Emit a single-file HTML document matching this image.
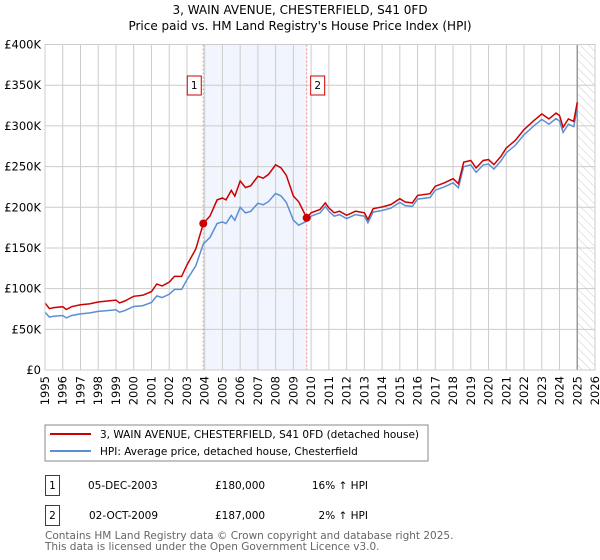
<!DOCTYPE html>
<html><head><meta charset="utf-8"><style>
body{margin:0;background:#fff;font-family:"DejaVu Sans","Liberation Sans",sans-serif}
svg{display:block}
</style></head><body>
<svg id="c" width="600" height="560" viewBox="0 0 600 560" font-family="DejaVu Sans, Liberation Sans, sans-serif">
<defs><pattern id="hatch" width="6" height="6" patternUnits="userSpaceOnUse" patternTransform="rotate(-45)"><line x1="0" y1="0" x2="0" y2="6" stroke="#ccc" stroke-width="1"/></pattern></defs>
<text x="300" y="14" text-anchor="middle" font-size="12">3, WAIN AVENUE, CHESTERFIELD, S41 0FD</text>
<text x="300" y="30" text-anchor="middle" font-size="12">Price paid vs. HM Land Registry's House Price Index (HPI)</text>
<g id="plot"></g>
<rect x="45" y="425" width="383" height="36" fill="#fff" stroke="#888"/>
<line x1="50" y1="434" x2="91" y2="434" stroke="#cc0000" stroke-width="2"/>
<text x="100" y="438" font-size="10.5">3, WAIN AVENUE, CHESTERFIELD, S41 0FD (detached house)</text>
<line x1="50" y1="451" x2="91" y2="451" stroke="#5b8fd4" stroke-width="2"/>
<text x="100" y="455" font-size="10.5">HPI: Average price, detached house, Chesterfield</text>
<g font-size="10.5">
<rect x="45.5" y="475.5" width="14" height="20" fill="none" stroke="#cc0000"/>
<text x="52.5" y="489" text-anchor="middle">1</text>
<text x="88" y="489">05-DEC-2003</text>
<text x="215" y="489">£180,000</text>
<text x="368" y="489" text-anchor="end">16% ↑ HPI</text>
<rect x="45.5" y="505.5" width="14" height="20" fill="none" stroke="#cc0000"/>
<text x="52.5" y="519" text-anchor="middle">2</text>
<text x="89" y="519">02-OCT-2009</text>
<text x="215" y="519">£187,000</text>
<text x="368" y="519" text-anchor="end">2% ↑ HPI</text>
</g>
<text x="45" y="539" font-size="10.5" fill="#666">Contains HM Land Registry data © Crown copyright and database right 2025.</text>
<text x="45" y="550" font-size="10.5" fill="#666">This data is licensed under the Open Government Licence v3.0.</text>
</svg>
<script>
const hpiYears=[1995,1995.25,1995.5,1996,1996.2,1996.5,1997,1997.5,1998,1998.5,1999,1999.2,1999.5,2000,2000.5,2001,2001.3,2001.6,2002,2002.3,2002.7,2003,2003.5,2003.92,2004.3,2004.7,2005,2005.2,2005.5,2005.7,2006,2006.3,2006.6,2007,2007.3,2007.6,2008,2008.3,2008.6,2009,2009.3,2009.75,2010,2010.5,2010.8,2011,2011.3,2011.6,2012,2012.5,2013,2013.2,2013.5,2014,2014.5,2015,2015.3,2015.7,2016,2016.7,2017,2017.5,2018,2018.3,2018.6,2019,2019.3,2019.7,2020,2020.3,2020.7,2021,2021.5,2022,2022.5,2023,2023.4,2023.8,2024,2024.2,2024.5,2024.8,2025.0];
const hpiValues=[71,65,66,67,64,67,69,70,72,73,74,71,73,78,79,83,91,89,93,99,99,111,128,155,163,180,182,180,190,184,200,193,195,205,203,207,217,214,206,184,178,183,189,193,201,195,189,191,186,191,189,181,194,196,199,206,202,201,210,212,221,225,230,224,250,252,243,252,253,247,257,267,276,289,299,308,302,309,306,292,302,299,322];
const saleYears=[2003.92,2009.75];
const salePrices=[180,187];
const yTicks=[0,50,100,150,200,250,300,350,400];
const yTickLabels=["£0","£50K","£100K","£150K","£200K","£250K","£300K","£350K","£400K"];
const xTicks=[1995,1996,1997,1998,1999,2000,2001,2002,2003,2004,2005,2006,2007,2008,2009,2010,2011,2012,2013,2014,2015,2016,2017,2018,2019,2020,2021,2022,2023,2024,2025,2026];
const NS="http://www.w3.org/2000/svg";
const L=45,R=595,T=44.5,B=370;
const X=v=>L+(v-1995)/(2026-1995)*(R-L);
const Y=v=>B-v/400*(B-T);
const g=document.getElementById('plot');
function mk(t,a,p){const e=document.createElementNS(NS,t);for(const k in a)e.setAttribute(k,a[k]);(p||g).appendChild(e);return e;}
// index sale price to HPI
function hpiAt(t){for(let i=0;i<hpiYears.length-1;i++){if(t<=hpiYears[i+1]){const f=(t-hpiYears[i])/(hpiYears[i+1]-hpiYears[i]);return hpiValues[i]+f*(hpiValues[i+1]-hpiValues[i]);}}return hpiValues[hpiValues.length-1];}
const r1=salePrices[0]/hpiAt(saleYears[0]),r2=salePrices[1]/hpiAt(saleYears[1]);
const propValues=hpiYears.map((t,i)=>hpiValues[i]*(t<saleYears[1]?r1:r2));
let e;
e=mk('rect',{x:X(saleYears[0]),y:T,width:X(saleYears[1])-X(saleYears[0]),height:B-T,fill:'#eef3fc',opacity:0.8});


e=mk('rect',{x:X(2025),y:T,width:R-X(2025),height:B-T,fill:'url(#hatch)'});


yTicks.forEach((v,i)=>{
 e=mk('line',{x1:L,x2:R,y1:Y(v),y2:Y(v),stroke:'#ccc'});
 
 
 e=mk('text',{x:L-4,y:Y(v)+4,'text-anchor':'end','font-size':'11.5'});e.textContent=yTickLabels[i];
 
 
});
xTicks.forEach(v=>{
 e=mk('line',{x1:X(v),x2:X(v),y1:T,y2:B,stroke:'#ccc'});
 
 
 e=mk('text',{x:0,y:0,'text-anchor':'end','font-size':'11.5',transform:`translate(${X(v)+4},${B+6}) rotate(-90)`});e.textContent=v;
 
 
});
e=mk('line',{x1:X(2025),x2:X(2025),y1:T,y2:B,stroke:'#999','stroke-width':1.5});


saleYears.forEach((t,i)=>{
 e=mk('line',{x1:X(t),x2:X(t),y1:T,y2:B,stroke:'#e88','stroke-dasharray':'2,2'});
 
 
});
const pts=(vals)=>hpiYears.map((t,i)=>X(t).toFixed(1)+','+Y(vals[i]).toFixed(1)).join(' ');
e=mk('polyline',{points:pts(hpiValues),fill:'none',stroke:'#5b8fd4','stroke-width':1.5});


e=mk('polyline',{points:pts(propValues),fill:'none',stroke:'#cc0000','stroke-width':1.5});


saleYears.forEach((t,i)=>{
 e=mk('circle',{cx:X(t),cy:Y(salePrices[i]),r:4,fill:'#cc0000'});
 
 
 const bx=X(t)-(i==0?14:0)-(i==0?-1:-1);
 e=mk('rect',{x:X(t)-(i==0?16:-4),y:76,width:14,height:19,fill:'#fff',stroke:'#cc0000'});
 
 
 e=mk('text',{x:X(t)-(i==0?9:-11),y:89,'text-anchor':'middle','font-size':'10.5'});e.textContent=i+1;
 
 
});
e=mk('rect',{x:L,y:T,width:R-L,height:B-T,fill:'none',stroke:'#ccc'});


</script>
</body></html>
